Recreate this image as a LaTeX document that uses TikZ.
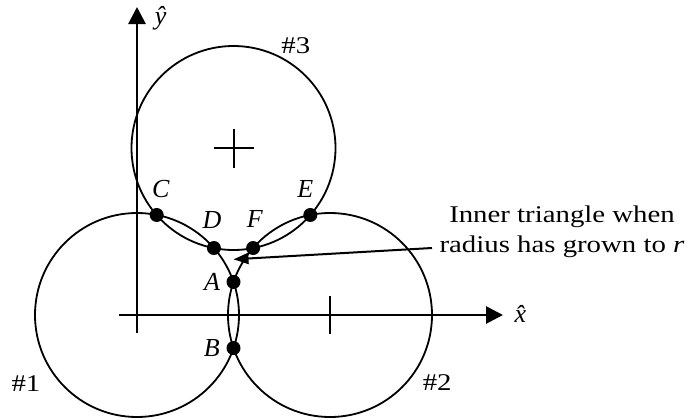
\documentclass[tikz,border=0pt]{standalone}
\usepackage{fontspec}
\setmainfont{Liberation Serif}[FakeStretch=1.2]
\newfontfamily\lettfont{Liberation Serif}
\usetikzlibrary{arrows.meta,positioning,calc}

\begin{document}
\begin{tikzpicture}[x=0.5pt,y=0.5pt,>={Triangle[length=8.5pt,width=8.5pt]},
  ring/.style={line width=0.9pt},
  axis/.style={line width=1.4pt,->},
  tick/.style={line width=1pt},
  dot/.style={circle,fill=black,inner sep=0pt,minimum size=7pt},
  pt/.style={font=\lettfont\itshape\fontsize{13}{15}\selectfont,inner sep=0pt},
  tag/.style={font=\fontsize{12}{15}\selectfont,inner sep=0pt}]
\useasboundingbox (-137,-104) rectangle (554,315);
\coordinate (c1) at (0,0);
\coordinate (c2) at (193,0);
\coordinate (c3) at (96.5,167);
\coordinate (G) at (96.5,55.67);
\draw[ring] (c1) circle[radius=102];
\draw[ring] (c2) circle[radius=102];
\draw[ring] (c3) circle[radius=102];
\coordinate (xstart) at (-18,0);
\coordinate (xend) at (366,0);
\coordinate (ystart) at (0,-18);
\coordinate (yend) at (0,308);
\draw[axis] (xstart) -- (xend);
\draw[axis] (ystart) -- (yend);
\draw[tick] ($(c2)+(0,-19)$) -- ($(c2)+(0,19)$);
\draw[tick] ($(c3)+(-20,0)$) -- ($(c3)+(20,0)$);
\draw[tick] ($(c3)+(0,-19.5)$) -- ($(c3)+(0,19.5)$);
\foreach \n/\a/\d in {A/-90/22.63,B/-90/88.71,F/30/22.63,E/30/88.71,D/150/22.63,C/150/88.71}
  \node[dot] (\n) at ($(G)+(\a:\d)$) {};
\node[pt] (lA) at ($(A)+(-21.5,-0.3)$) {A};
\node[pt] (lB) at ($(B)+(-21.8,0.3)$) {B};
\node[pt] (lC) at ($(C)+(4,25.7)$) {C};
\node[pt] (lD) at ($(D)+(-1.9,28)$) {D};
\node[pt] (lE) at ($(E)+(-5,26)$) {E};
\node[pt] (lF) at ($(F)+(1.6,29)$) {F};
\node[pt] (xlab) at (383.5,0.8) {\^{x}};
\node[pt] (ylab) at (23.7,296.7) {\^{y}};
\node[tag] (n1) at (-111,-68.3) {\#1};
\node[tag] (n2) at (300.2,-67.5) {\#2};
\node[tag] (n3) at (158.8,269.2) {\#3};
\node[tag,align=center] (note) at (425,83.5) {Inner triangle when\\radius has grown to \textit{r}};
\coordinate (tail) at (295,67);
\draw[->,line width=1pt,>={Triangle[length=7.5pt,width=5.5pt]}] (tail) -- (G);
\end{tikzpicture}
\end{document}
